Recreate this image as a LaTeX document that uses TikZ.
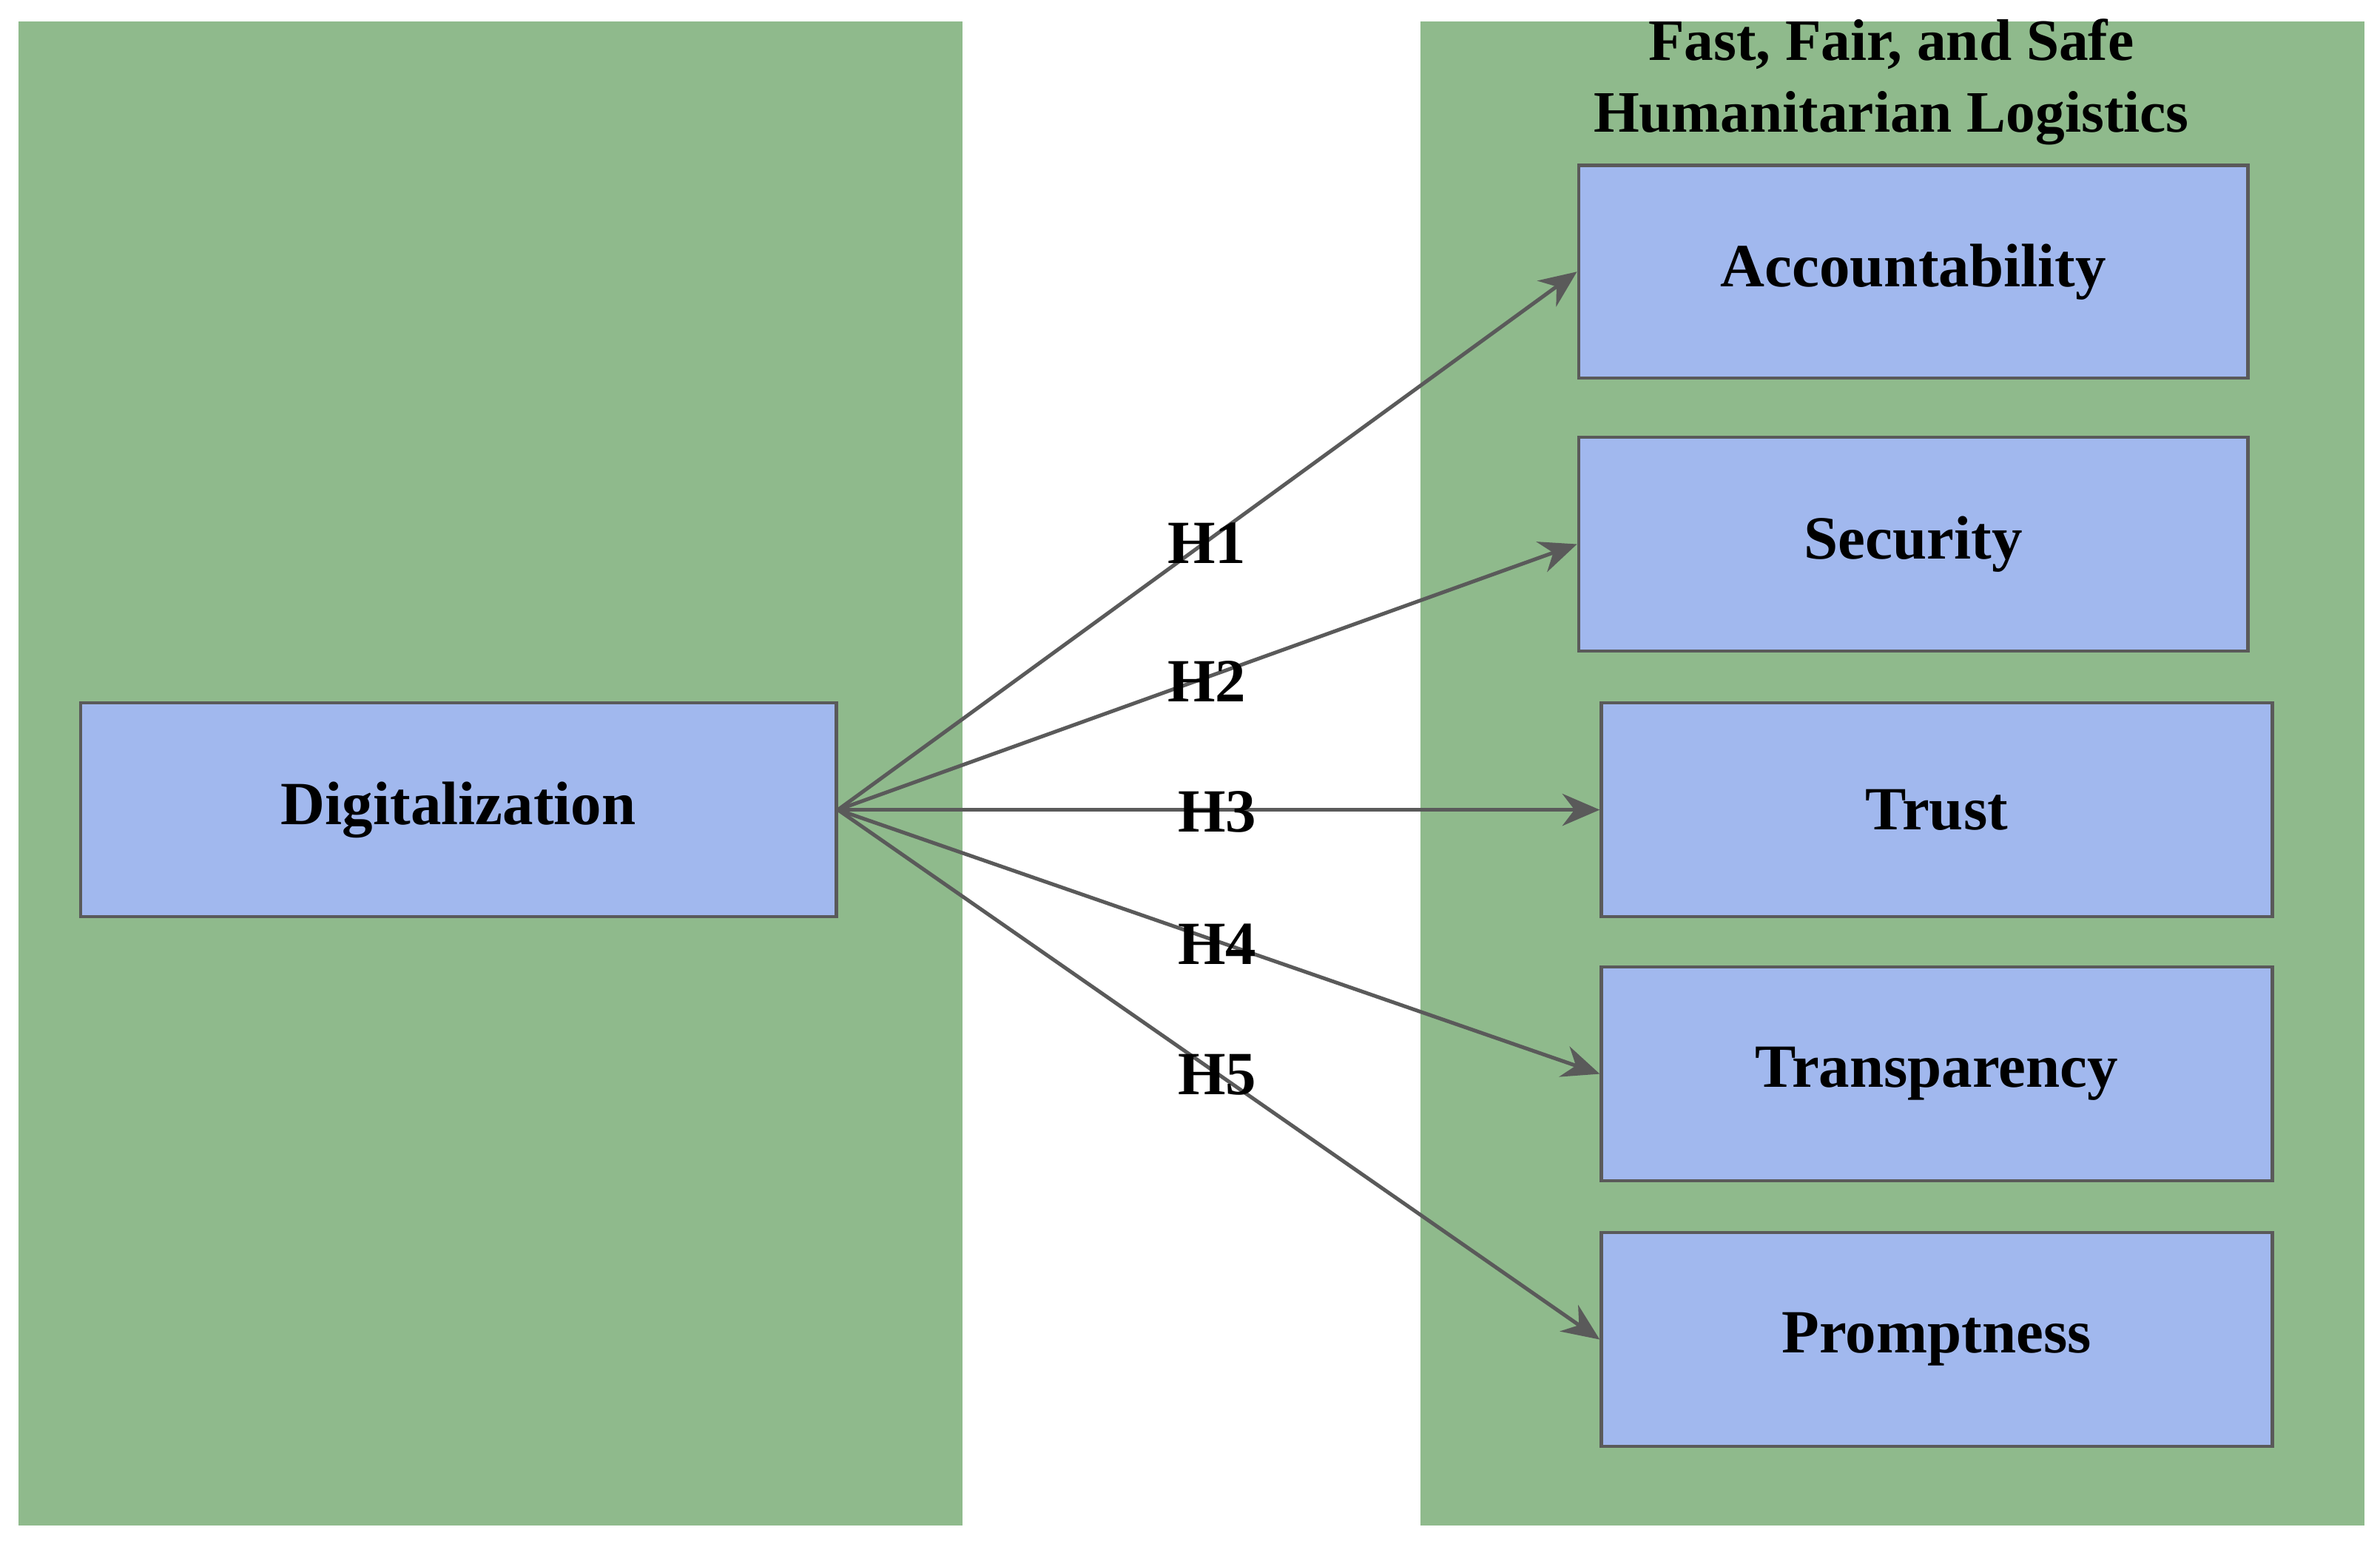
\documentclass[tikz,border=0pt]{standalone}
\usepackage{fontspec}
\setmainfont{Liberation Serif}
\usetikzlibrary{arrows.meta}
\definecolor{pg}{HTML}{8FBA8C}
\definecolor{bb}{HTML}{A1B8EE}
\definecolor{ln}{HTML}{5A5A5A}
\begin{document}
\begin{tikzpicture}[x=0.01cm,y=-0.01cm,
  panel/.style={fill=pg,draw=none},
  box/.style={draw=ln,line width=0.6pt,fill=bb,font=\fontsize{11.5}{13}\selectfont\bfseries},
  arr/.style={draw=ln,line width=0.7pt,-{Stealth[length=7pt,width=6pt]}},
  lab/.style={font=\fontsize{11.5}{13}\selectfont\bfseries,inner sep=0pt}]
\useasboundingbox (0,0) rectangle (1568,1017);
\fill[panel] (12,14) rectangle (634,1005);
\fill[panel] (936,14) rectangle (1558,1005);
\node[font=\fontsize{11}{13.5}\selectfont\bfseries,align=center] (title) at (1246,54) {Fast, Fair, and Safe\\Humanitarian Logistics};
\node[box,minimum width=498*0.01cm,minimum height=141*0.01cm] (d) at (302,533.5) {Digitalization};
\node[box,minimum width=441*0.01cm,minimum height=140*0.01cm] (a) at (1260.5,179) {Accountability};
\node[box,minimum width=441*0.01cm,minimum height=141*0.01cm] (s) at (1260.5,358.5) {Security};
\node[box,minimum width=442*0.01cm,minimum height=141*0.01cm] (t) at (1276,533.5) {Trust};
\node[box,minimum width=442*0.01cm,minimum height=141*0.01cm] (tr) at (1276,707.5) {Transparency};
\node[box,minimum width=442*0.01cm,minimum height=141*0.01cm] (p) at (1276,882.5) {Promptness};
\draw[arr] (d.east) -- (a.west);
\draw[arr] (d.east) -- (s.west);
\draw[arr] (d.east) -- (t.west);
\draw[arr] (d.east) -- (tr.west);
\draw[arr] (d.east) -- (p.west);
\node[lab] (h1) at (795,358) {H1};
\node[lab] (h2) at (795,449) {H2};
\node[lab] (h3) at (802,535) {H3};
\node[lab] (h4) at (802,622) {H4};
\node[lab] (h5) at (802,708) {H5};
\end{tikzpicture}
\end{document}
